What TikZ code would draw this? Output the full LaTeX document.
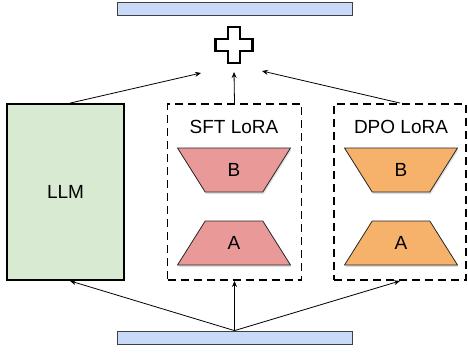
\documentclass[tikz,border=0pt]{standalone}
\usepackage{fontspec}
\setmainfont{Liberation Sans}
\usetikzlibrary{arrows.meta,shapes.geometric,shadows}
\definecolor{llmgreen}{HTML}{D9EAD3}
\definecolor{sftpink}{HTML}{EA9999}
\definecolor{dpoorange}{HTML}{F6B26B}
\definecolor{barblue}{HTML}{C9DAF8}
\tikzset{
  bar/.style={draw=black!75, fill=barblue, line width=0.8pt,
    minimum width=235pt, minimum height=13pt, inner sep=0pt},
  loradash/.style={draw, line width=1.9pt, dash pattern=on 8pt off 5pt,
    minimum width=134pt, minimum height=176pt, inner sep=0pt},
  lorablock/.style={draw=black!85, line width=0.8pt, trapezium,
    trapezium angle=65, trapezium stretches=true,
    minimum width=113pt, minimum height=44pt, inner sep=0pt,
    drop shadow={opacity=0.25, shadow xshift=1pt, shadow yshift=-2pt}},
  conn/.style={line width=0.8pt, -{Stealth[length=6pt,width=5pt]}},
}
\begin{document}
\begin{tikzpicture}[x=1pt, y=-1pt,
    font=\fontsize{19}{22}\selectfont]
  \useasboundingbox (0,0) rectangle (468,354);
  % Bars
  \node[bar] (out) at (234.5,8.5) {};
  \node[bar] (in) at (234.5,337.5) {};
  % Plus
  \draw[line width=2.3pt, line join=miter]
       (228,27) -- (240,27) -- (240,39) -- (252.5,39)
    -- (252.5,51) -- (240,51) -- (240,63) -- (228,63)
    -- (228,51) -- (215.5,51) -- (215.5,39) -- (228,39) -- cycle;
  \coordinate (plusl) at (201,73);
  \coordinate (plusm) at (234,72);
  \coordinate (plusr) at (262,71);
  % LLM
  \node[draw, line width=1.8pt, fill=llmgreen, minimum width=117pt,
    minimum height=176pt, inner sep=0pt] (llm) at (65.5,192) {LLM};
  % SFT LoRA
  \node[loradash] (sft) at (234.5,192) {};
  \node (sftlabel) at (234,127) {SFT LoRA};
  \node[lorablock, fill=sftpink, shape border rotate=180] (sftb) at (234,170) {B};
  \node[lorablock, fill=sftpink] (sfta) at (234,243) {A};
  % DPO LoRA
  \node[loradash, minimum width=132pt] (dpo) at (400,192) {};
  \node (dpolabel) at (401,127) {DPO LoRA};
  \node[lorablock, fill=dpoorange, shape border rotate=180] (dpob) at (401,170) {B};
  \node[lorablock, fill=dpoorange] (dpoa) at (401,243) {A};
  % Connectors
  \draw[conn] ([xshift=4.5pt]llm.north) -- (plusl);
  \draw[conn] (sft.north) -- (plusm);
  \draw[conn] (dpo.north) -- (plusr);
  \draw[conn] (in.north) -- ([xshift=4.5pt]llm.south);
  \draw[conn] (in.north) -- (sft.south);
  \draw[conn] (in.north) -- (dpo.south);
\end{tikzpicture}
\end{document}
